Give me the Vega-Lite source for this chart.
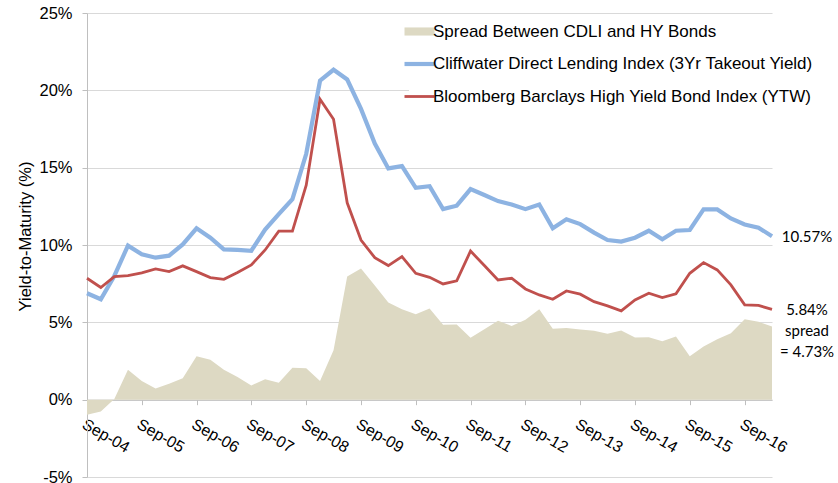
{
  "$schema": "https://vega.github.io/schema/vega-lite/v6.json",
  "width": 685,
  "height": 464,
  "autosize": {"type": "none"},
  "padding": {"left": 87, "top": 13, "right": 66, "bottom": 6},
  "background": "white",
  "config": {"view": {"stroke": null}, "font": "Liberation Sans"},
  "data": {"values": [
    {"date": "2004-09-30", "cdli": 6.88, "hy": 7.85, "spread": -0.97},
    {"date": "2004-12-31", "cdli": 6.49, "hy": 7.25, "spread": -0.76},
    {"date": "2005-03-31", "cdli": 8.00, "hy": 7.96, "spread": 0.04},
    {"date": "2005-06-30", "cdli": 9.96, "hy": 8.02, "spread": 1.94},
    {"date": "2005-09-30", "cdli": 9.40, "hy": 8.20, "spread": 1.20},
    {"date": "2005-12-31", "cdli": 9.18, "hy": 8.45, "spread": 0.73},
    {"date": "2006-03-31", "cdli": 9.31, "hy": 8.28, "spread": 1.03},
    {"date": "2006-06-30", "cdli": 10.04, "hy": 8.65, "spread": 1.39},
    {"date": "2006-09-30", "cdli": 11.08, "hy": 8.28, "spread": 2.80},
    {"date": "2006-12-31", "cdli": 10.47, "hy": 7.89, "spread": 2.58},
    {"date": "2007-03-31", "cdli": 9.72, "hy": 7.78, "spread": 1.94},
    {"date": "2007-06-30", "cdli": 9.68, "hy": 8.22, "spread": 1.46},
    {"date": "2007-09-30", "cdli": 9.63, "hy": 8.71, "spread": 0.92},
    {"date": "2007-12-31", "cdli": 11.00, "hy": 9.68, "spread": 1.32},
    {"date": "2008-03-31", "cdli": 12.00, "hy": 10.90, "spread": 1.10},
    {"date": "2008-06-30", "cdli": 12.97, "hy": 10.90, "spread": 2.07},
    {"date": "2008-09-30", "cdli": 15.90, "hy": 13.87, "spread": 2.03},
    {"date": "2008-12-31", "cdli": 20.62, "hy": 19.42, "spread": 1.20},
    {"date": "2009-03-31", "cdli": 21.33, "hy": 18.13, "spread": 3.20},
    {"date": "2009-06-30", "cdli": 20.70, "hy": 12.73, "spread": 7.97},
    {"date": "2009-09-30", "cdli": 18.80, "hy": 10.32, "spread": 8.48},
    {"date": "2009-12-31", "cdli": 16.56, "hy": 9.18, "spread": 7.38},
    {"date": "2010-03-31", "cdli": 14.95, "hy": 8.67, "spread": 6.28},
    {"date": "2010-06-30", "cdli": 15.10, "hy": 9.25, "spread": 5.85},
    {"date": "2010-09-30", "cdli": 13.70, "hy": 8.17, "spread": 5.53},
    {"date": "2010-12-31", "cdli": 13.80, "hy": 7.91, "spread": 5.89},
    {"date": "2011-03-31", "cdli": 12.32, "hy": 7.48, "spread": 4.84},
    {"date": "2011-06-30", "cdli": 12.54, "hy": 7.68, "spread": 4.86},
    {"date": "2011-09-30", "cdli": 13.61, "hy": 9.61, "spread": 4.00},
    {"date": "2011-12-31", "cdli": 13.23, "hy": 8.67, "spread": 4.56},
    {"date": "2012-03-31", "cdli": 12.84, "hy": 7.74, "spread": 5.10},
    {"date": "2012-06-30", "cdli": 12.62, "hy": 7.85, "spread": 4.77},
    {"date": "2012-09-30", "cdli": 12.32, "hy": 7.16, "spread": 5.16},
    {"date": "2012-12-31", "cdli": 12.62, "hy": 6.77, "spread": 5.85},
    {"date": "2013-03-31", "cdli": 11.08, "hy": 6.49, "spread": 4.59},
    {"date": "2013-06-30", "cdli": 11.66, "hy": 7.03, "spread": 4.63},
    {"date": "2013-09-30", "cdli": 11.35, "hy": 6.82, "spread": 4.53},
    {"date": "2013-12-31", "cdli": 10.80, "hy": 6.34, "spread": 4.46},
    {"date": "2014-03-31", "cdli": 10.32, "hy": 6.06, "spread": 4.26},
    {"date": "2014-06-30", "cdli": 10.22, "hy": 5.74, "spread": 4.48},
    {"date": "2014-09-30", "cdli": 10.47, "hy": 6.45, "spread": 4.02},
    {"date": "2014-12-31", "cdli": 10.92, "hy": 6.88, "spread": 4.04},
    {"date": "2015-03-31", "cdli": 10.37, "hy": 6.60, "spread": 3.77},
    {"date": "2015-06-30", "cdli": 10.92, "hy": 6.84, "spread": 4.08},
    {"date": "2015-09-30", "cdli": 10.97, "hy": 8.17, "spread": 2.80},
    {"date": "2015-12-31", "cdli": 12.30, "hy": 8.86, "spread": 3.44},
    {"date": "2016-03-31", "cdli": 12.30, "hy": 8.39, "spread": 3.91},
    {"date": "2016-06-30", "cdli": 11.72, "hy": 7.42, "spread": 4.30},
    {"date": "2016-09-30", "cdli": 11.33, "hy": 6.13, "spread": 5.20},
    {"date": "2016-12-31", "cdli": 11.12, "hy": 6.09, "spread": 5.03},
    {"date": "2017-03-31", "cdli": 10.57, "hy": 5.84, "spread": 4.73}
  ]},
  "encoding": {
    "x": {
      "field": "date",
      "type": "temporal",
      "scale": {"type": "utc", "nice": false, "domain": [{"year": 2004, "month": 9, "date": 30, "utc": true}, {"year": 2017, "month": 3, "date": 31, "utc": true}]},
      "axis": {
        "values": [
          {"year": 2004, "month": 9, "date": 30, "utc": true},
          {"year": 2005, "month": 9, "date": 30, "utc": true},
          {"year": 2006, "month": 9, "date": 30, "utc": true},
          {"year": 2007, "month": 9, "date": 30, "utc": true},
          {"year": 2008, "month": 9, "date": 30, "utc": true},
          {"year": 2009, "month": 9, "date": 30, "utc": true},
          {"year": 2010, "month": 9, "date": 30, "utc": true},
          {"year": 2011, "month": 9, "date": 30, "utc": true},
          {"year": 2012, "month": 9, "date": 30, "utc": true},
          {"year": 2013, "month": 9, "date": 30, "utc": true},
          {"year": 2014, "month": 9, "date": 30, "utc": true},
          {"year": 2015, "month": 9, "date": 30, "utc": true},
          {"year": 2016, "month": 9, "date": 30, "utc": true}
        ],
        "format": "%b-%y",
        "labelAngle": 30,
        "labelAlign": "left",
        "labelBaseline": "top",
        "labelPadding": 11,
        "labelFont": "Liberation Sans",
        "labelFontSize": 16,
        "labelColor": "black",
        "labelOverlap": false,
        "labelBound": false,
        "labelFlush": false,
        "tickSize": 5,
        "tickColor": "#BFBFBF",
        "domainColor": "#BFBFBF",
        "offset": -77.33,
        "grid": false,
        "title": null
      }
    },
    "y": {
      "field": "pct",
      "type": "quantitative",
      "scale": {"domain": [-5, 25], "nice": false, "zero": false},
      "axis": {
        "values": [-5, 0, 5, 10, 15, 20, 25],
        "labelExpr": "datum.value + '%'",
        "labelFont": "Liberation Sans",
        "labelFontSize": 16.5,
        "labelColor": "black",
        "labelPadding": 10,
        "tickSize": 5,
        "tickColor": "#BFBFBF",
        "domainColor": "#BFBFBF",
        "grid": true,
        "gridColor": "#D9D9D9",
        "title": "Yield-to-Maturity (%)",
        "titleFont": "Liberation Sans",
        "titleFontSize": 16.5,
        "titleFontWeight": "normal",
        "titleColor": "black",
        "titlePadding": 5,
        "titleY": 223
      }
    }
  },
  "layer": [
    {
      "transform": [{"fold": ["cdli", "hy", "spread"], "as": ["series", "pct"]}, {"filter": "datum.series === 'spread'"}],
      "mark": {"type": "area"},
      "encoding": {
        "color": {
          "datum": "Spread Between CDLI and HY Bonds",
          "scale": {
            "domain": ["Spread Between CDLI and HY Bonds", "Cliffwater Direct Lending Index (3Yr Takeout Yield)", "Bloomberg Barclays High Yield Bond Index (YTW)"],
            "range": ["#DDD9C3", "#8DB3E2", "#C0504D"]
          },
          "legend": {
            "orient": "none",
            "legendX": 322,
            "legendY": 8,
            "title": null,
            "padding": 2,
            "fillColor": "white",
            "labelFont": "Liberation Sans",
            "labelFontSize": 17,
            "labelColor": "black",
            "labelLimit": 0,
            "labelOffset": 5,
            "symbolSize": 900,
            "rowPadding": 14.5,
            "encode": {
              "symbols": {
                "update": {
                  "shape": {"signal": "datum.value === 'Spread Between CDLI and HY Bonds' ? 'M-1,-0.27H1V0.27H-1Z' : 'M-1,0H1'"},
                  "fill": {"signal": "datum.value === 'Spread Between CDLI and HY Bonds' ? '#DDD9C3' : 'transparent'"},
                  "stroke": {"signal": "datum.value === 'Spread Between CDLI and HY Bonds' ? 'transparent' : (datum.value === 'Bloomberg Barclays High Yield Bond Index (YTW)' ? '#C0504D' : '#8DB3E2')"},
                  "strokeWidth": {"signal": "datum.value === 'Spread Between CDLI and HY Bonds' ? 0 : (datum.value === 'Bloomberg Barclays High Yield Bond Index (YTW)' ? 2.8 : 4.2)"},
                  "opacity": {"value": 1},
                  "fillOpacity": {"value": 1},
                  "strokeOpacity": {"value": 1}
                }
              }
            }
          }
        }
      }
    },
    {
      "transform": [{"fold": ["cdli", "hy", "spread"], "as": ["series", "pct"]}, {"filter": "datum.series === 'cdli'"}],
      "mark": {"type": "line", "strokeWidth": 4.2},
      "encoding": {"color": {"datum": "Cliffwater Direct Lending Index (3Yr Takeout Yield)"}}
    },
    {
      "transform": [{"fold": ["cdli", "hy", "spread"], "as": ["series", "pct"]}, {"filter": "datum.series === 'hy'"}],
      "mark": {"type": "line", "strokeWidth": 2.8},
      "encoding": {"color": {"datum": "Bloomberg Barclays High Yield Bond Index (YTW)"}}
    },
    {
      "data": {"values": [
        {"date": "2017-03-31", "pct": 10.57, "label": "10.57%"},
        {"date": "2017-03-31", "pct": 5.84, "label": "5.84%"}
      ]},
      "mark": {"type": "text", "align": "center", "baseline": "middle", "dx": 35, "dy": 1, "font": "Lato", "fontSize": 15, "color": "black"},
      "encoding": {"text": {"field": "label"}}
    },
    {
      "data": {"values": [
        {"date": "2017-03-31", "pct": 4.73, "label": "spread\n= 4.73%"}
      ]},
      "mark": {"type": "text", "align": "center", "baseline": "top", "dx": 35, "dy": -3, "lineBreak": "\n", "lineHeight": 21, "font": "Lato", "fontSize": 15, "color": "black"},
      "encoding": {"text": {"field": "label"}}
    }
  ]
}
